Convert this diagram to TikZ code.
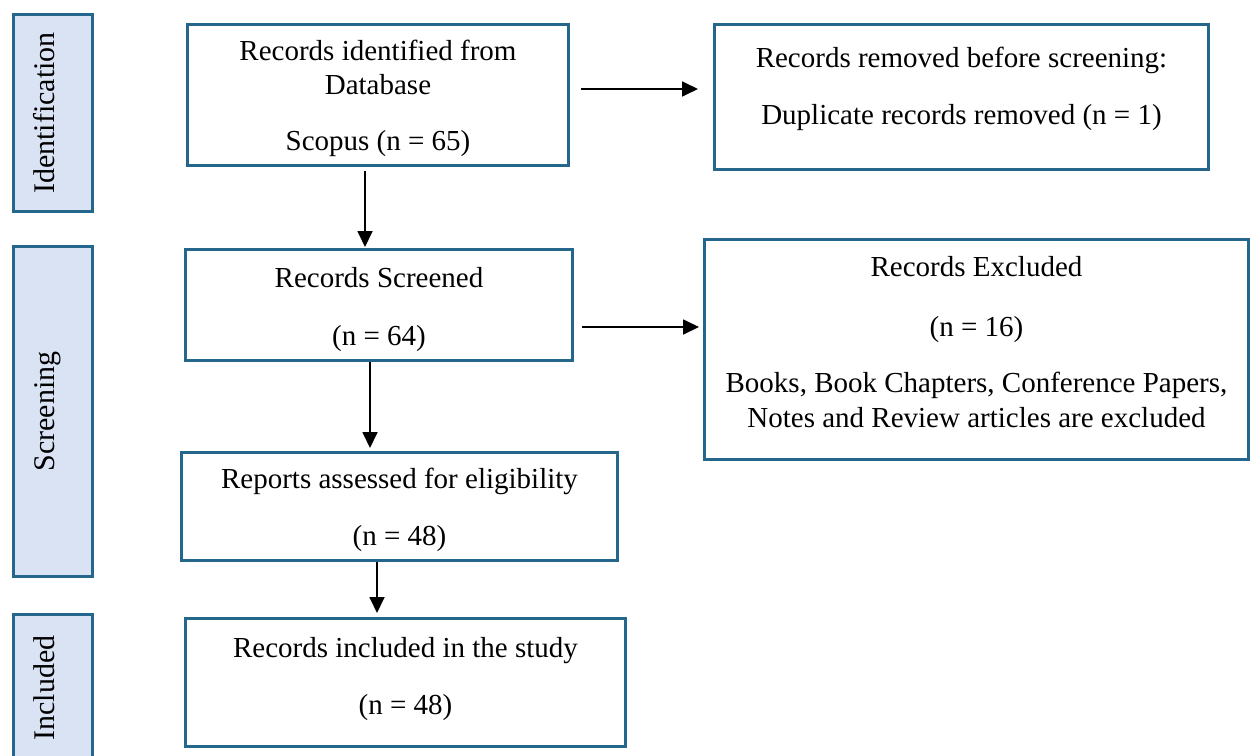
\documentclass[tikz,border=0pt]{standalone}
\usepackage{fontspec}
\setmainfont{Liberation Serif}
\usetikzlibrary{arrows.meta}
\definecolor{boxline}{RGB}{36,102,140}
\definecolor{stagefill}{RGB}{218,227,243}
\begin{document}
\begin{tikzpicture}[x=1pt,y=-1pt,
    box/.style={draw=boxline,line width=3pt,align=center,inner sep=0pt,font=\fontsize{29}{34}\selectfont},
    stage/.style={box,fill=stagefill,rotate=90,font=\fontsize{30}{34}\selectfont,text height=21pt,text depth=18pt,minimum height=79pt},
    arr/.style={line width=1.8pt,-{Triangle[length=16pt,width=15pt]}}]
    \useasboundingbox (0,0) rectangle (1252,755);

    \node[stage,minimum width=197pt] (stageid) at (53,113) {Identification};
    \node[stage,minimum width=330pt] (stagescr) at (53,411.5) {Screening};
    \node[stage,minimum width=147pt] (stageinc) at (53,688) {Included};

    \node[box,minimum width=381pt,minimum height=141pt] (database) at (378,95)
        {\rule{0pt}{28pt}Records identified from\\Database\\[22pt]Scopus (n = 65)};
    \node[box,minimum width=494pt,minimum height=145pt] (removed) at (961.5,97)
        {Records removed before screening:\\[23pt]Duplicate records removed (n = 1)\rule[-23pt]{0pt}{23pt}};
    \node[box,minimum width=387pt,minimum height=111pt] (screened) at (379,305)
        {\rule{0pt}{30pt}Records Screened\\[24pt](n = 64)};
    \node[box,minimum width=544pt,minimum height=220pt] (excluded) at (976.5,349.5)
        {Records Excluded\\[26pt](n = 16)\\[22pt]Books, Book Chapters, Conference Papers,\\[1pt]Notes and Review articles are excluded\rule[-15pt]{0pt}{15pt}};
    \node[box,minimum width=436pt,minimum height=108pt] (assessed) at (399.5,506.5)
        {\rule{0pt}{28pt}Reports assessed for eligibility\\[23pt](n = 48)};
    \node[box,minimum width=440pt,minimum height=128pt] (included) at (405.5,682.5)
        {Records included in the study\\[23pt](n = 48)\rule[-14pt]{0pt}{14pt}};

    \coordinate (d1) at ([xshift=-13pt]database.south);
    \coordinate (s1) at ([xshift=-9pt]screened.south);
    \coordinate (a1) at ([xshift=-22.5pt]assessed.south);
    \coordinate (d2) at ([yshift=6pt]database.east);
    \coordinate (s2) at ([yshift=-22pt]screened.east);

    \draw[arr,shorten <=4pt,shorten >=1pt] (d1) -- (d1 |- screened.north);
    \draw[arr,shorten >=3pt] (s1) -- (s1 |- assessed.north);
    \draw[arr,shorten >=4pt] (a1) -- (a1 |- included.north);
    \draw[arr,shorten <=11pt,shorten >=15pt] (d2) -- (d2 -| removed.west);
    \draw[arr,shorten <=8pt,shorten >=4pt] (s2) -- (s2 -| excluded.west);
\end{tikzpicture}
\end{document}
